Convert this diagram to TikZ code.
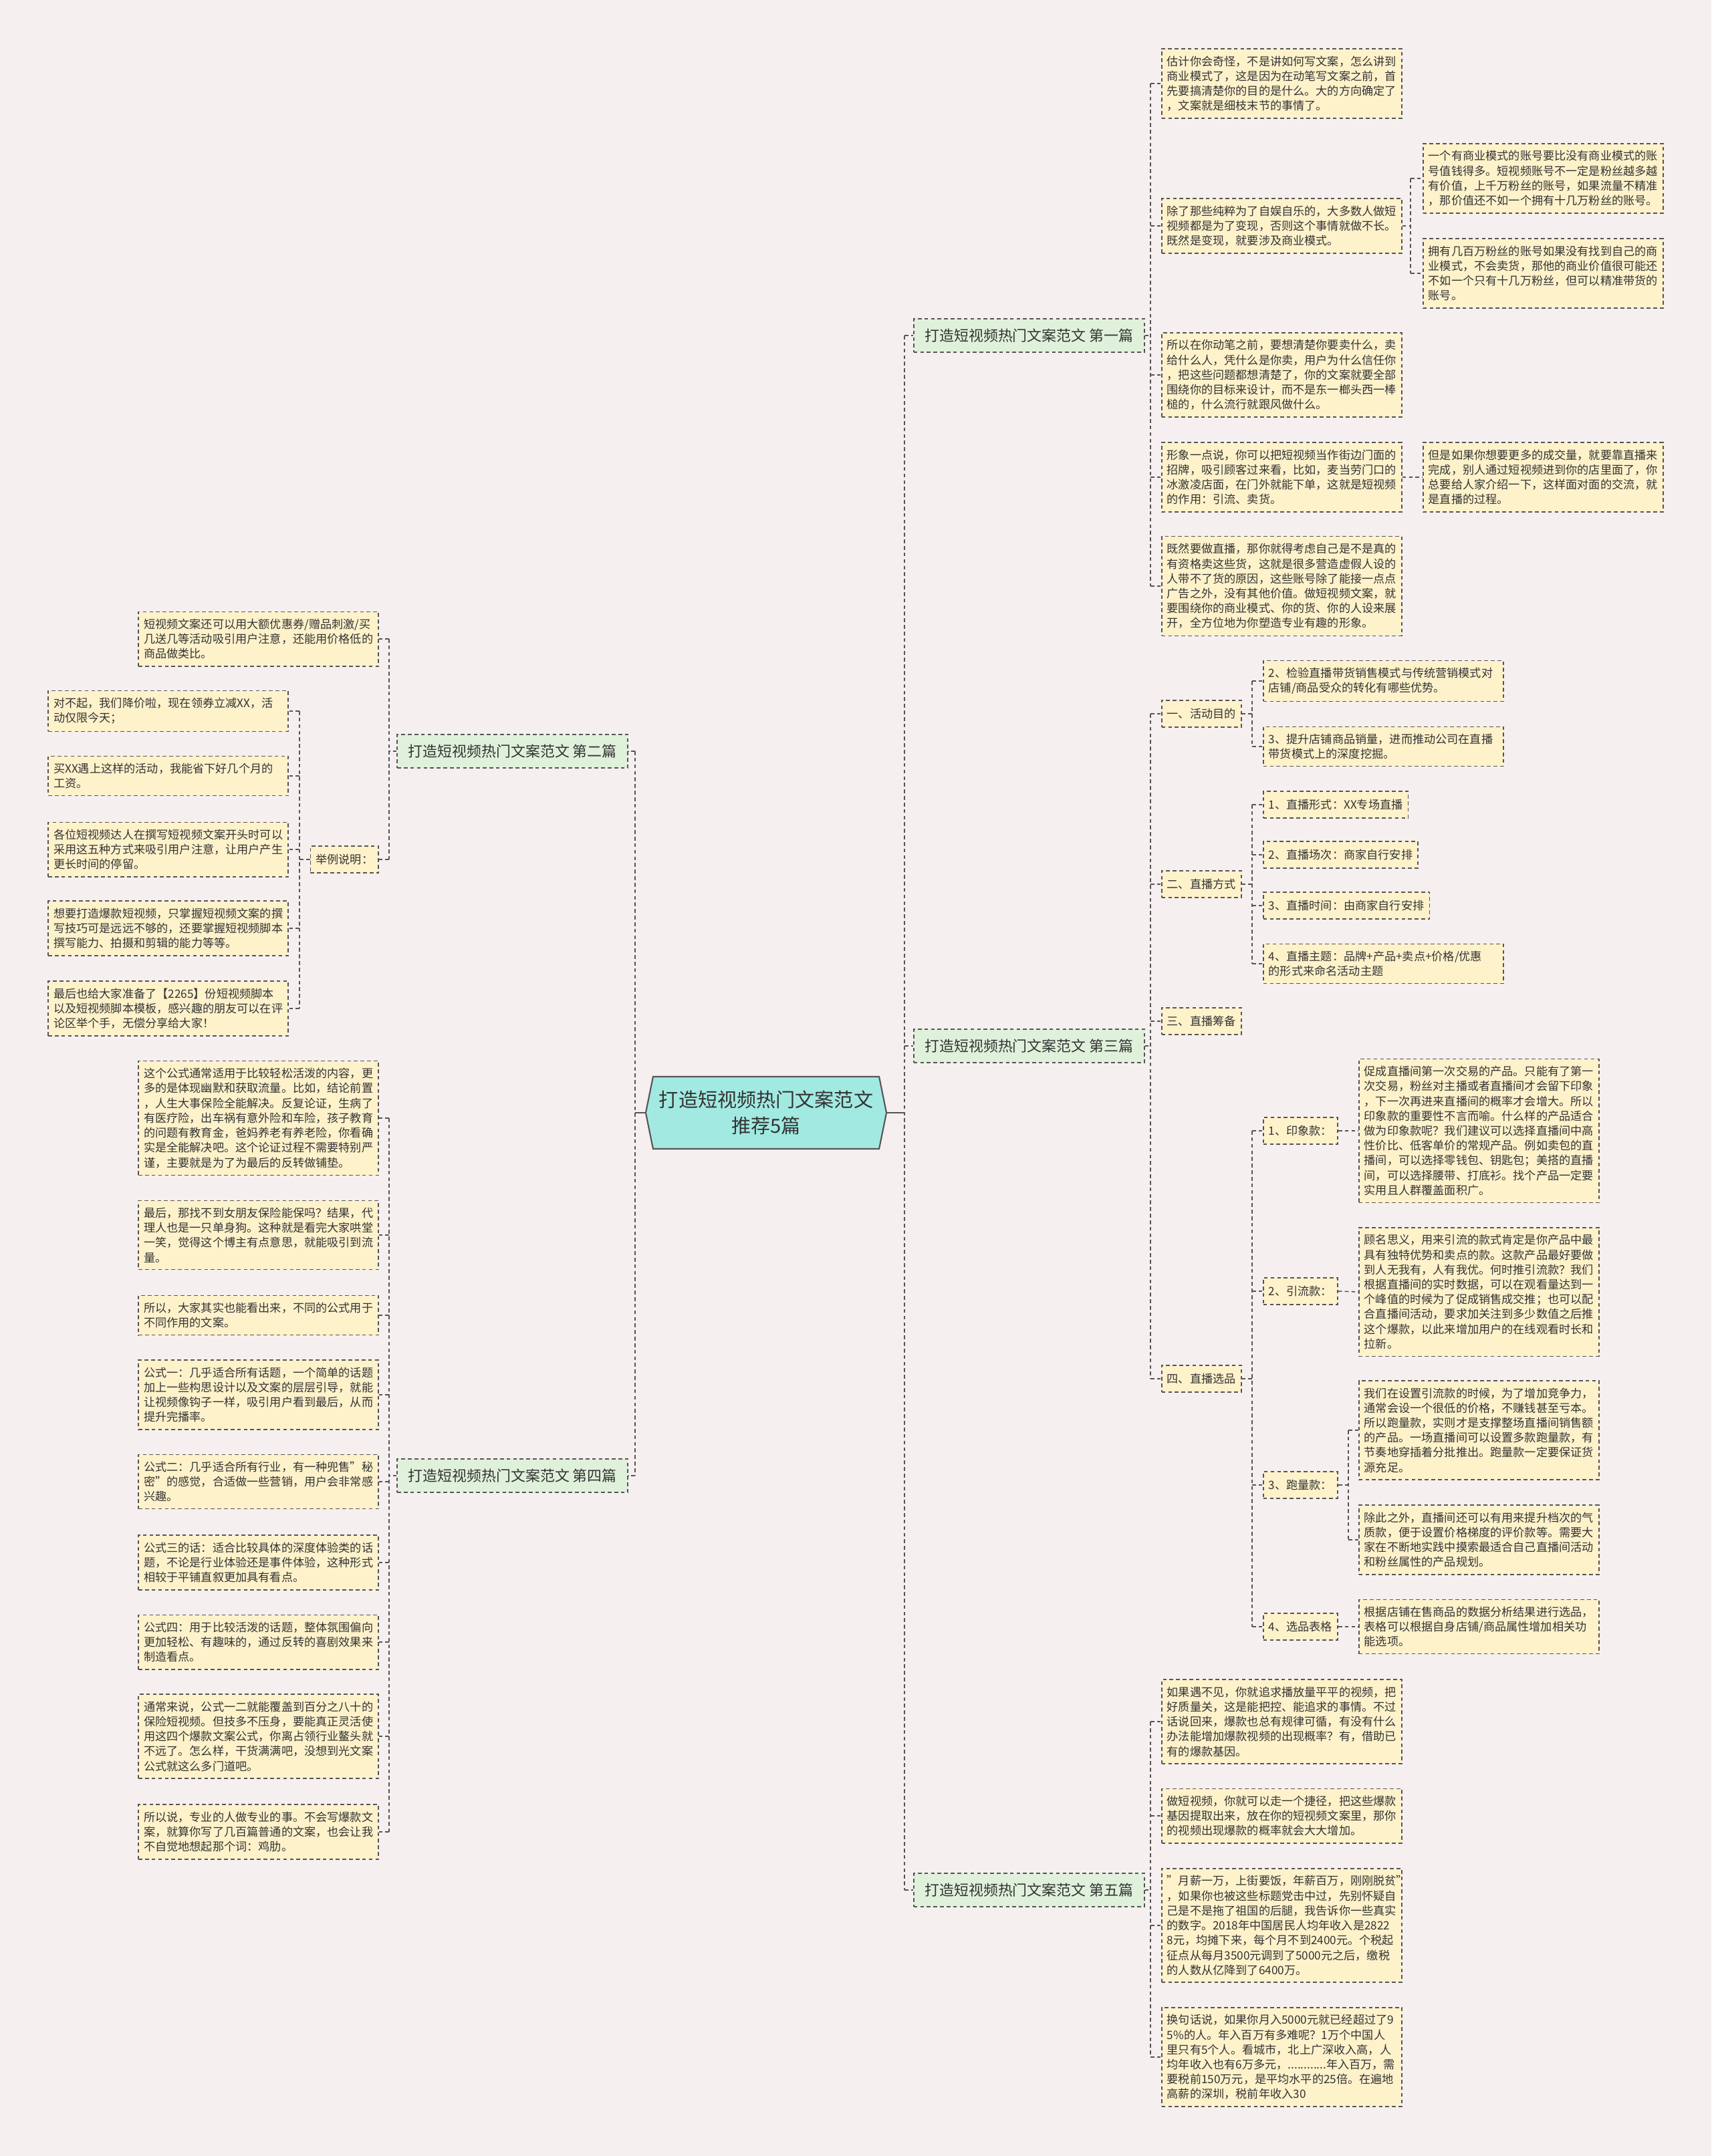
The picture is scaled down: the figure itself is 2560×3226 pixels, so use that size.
\documentclass[tikz,border=0pt]{standalone}
\usepackage{fontspec}
\setmainfont{Noto Sans CJK SC}
\usetikzlibrary{shapes.symbols}
\definecolor{bgpink}{HTML}{F5EFF0}
\definecolor{cardfill}{HTML}{FEF2CB}
\definecolor{branchfill}{HTML}{E0F1DB}
\definecolor{rootfill}{HTML}{A2EAE1}
\definecolor{linegray}{HTML}{555555}
\definecolor{textgray}{HTML}{333333}
\newcommand{\bodysize}{\fontsize{12.2pt}{15.8pt}\selectfont}

\begin{document}
\begin{tikzpicture}[x=0.025cm,y=-0.025cm,
  cardbase/.style={rectangle,draw=linegray,fill=cardfill,dash pattern=on 4pt off 3pt,
                   line width=1.1pt,text=textgray,align=left,inner xsep=0.2cm,
                   inner ysep=7.5pt,font=\bodysize},
  card/.style={cardbase,text width=8.575cm},
  tagbox/.style={cardbase,minimum height=1cm},
  branch/.style={cardbase,fill=branchfill,align=center,minimum width=8.625cm,
                 minimum height=1.25cm,font=\fontsize{15.6pt}{18pt}\selectfont},
  rootbox/.style={signal,signal to=west and east,signal pointer angle=157,draw=linegray,
                  line width=1.5pt,fill=rootfill,text=textgray,align=center,
                  minimum width=9cm,minimum height=2.7cm,
                  font=\fontsize{20.7pt}{27.7pt}\selectfont},
  link/.style={draw=linegray,line width=1.1pt,dash pattern=on 4pt off 3pt},
  rootline/.style={draw=linegray,line width=1.5pt},
]
  \fill[bgpink] (0,0) rectangle (2560,3226);
  \useasboundingbox (0,0) rectangle (2560,3226);

  % spine columns
  \coordinate (hubR) at (1353,0);
  \coordinate (hubL) at (950,0);
  \coordinate (colA) at (1721,0);
  \coordinate (colB) at (1873,0);
  \coordinate (colC) at (2017,0);
  \coordinate (colD) at (2110,0);
  \coordinate (colL) at (582,0);
  \coordinate (colLL) at (448,0);

  \node[rootbox] (root) at (1146,1665) {打造短视频热门文案范文\\推荐5篇};

  \node[branch,anchor=west] (b1) at (1366,502)  {打造短视频热门文案范文 第一篇};
  \node[branch,anchor=west] (b3) at (1366,1565) {打造短视频热门文案范文 第三篇};
  \node[branch,anchor=west] (b5) at (1366,2828) {打造短视频热门文案范文 第五篇};
  \node[branch,anchor=east] (b2) at (940,1124)  {打造短视频热门文案范文 第二篇};
  \node[branch,anchor=east] (b4) at (940,2208)  {打造短视频热门文案范文 第四篇};

  % first piece
  \node[card,anchor=west] (c1a) at (1737,125) {估计你会奇怪，不是讲如何写文案，怎么讲到\\商业模式了，这是因为在动笔写文案之前，首\\先要搞清楚你的目的是什么。大的方向确定了\\，文案就是细枝末节的事情了。};
  \node[card,anchor=west] (c1b) at (1737,338) {除了那些纯粹为了自娱自乐的，大多数人做短\\视频都是为了变现，否则这个事情就做不长。\\既然是变现，就要涉及商业模式。};
  \node[card,anchor=west] (c1b1) at (2128,267) {一个有商业模式的账号要比没有商业模式的账\\号值钱得多。短视频账号不一定是粉丝越多越\\有价值，上千万粉丝的账号，如果流量不精准\\，那价值还不如一个拥有十几万粉丝的账号。};
  \node[card,anchor=west] (c1b2) at (2128,409) {拥有几百万粉丝的账号如果没有找到自己的商\\业模式，不会卖货，那他的商业价值很可能还\\不如一个只有十几万粉丝，但可以精准带货的\\账号。};
  \node[card,anchor=west] (c1c) at (1737,561) {所以在你动笔之前，要想清楚你要卖什么，卖\\给什么人，凭什么是你卖，用户为什么信任你\\，把这些问题都想清楚了，你的文案就要全部\\围绕你的目标来设计，而不是东一榔头西一棒\\槌的，什么流行就跟风做什么。};
  \node[card,anchor=west] (c1d) at (1737,714) {形象一点说，你可以把短视频当作街边门面的\\招牌，吸引顾客过来看，比如，麦当劳门口的\\冰激凌店面，在门外就能下单，这就是短视频\\的作用：引流、卖货。};
  \node[card,anchor=west] (c1d1) at (2128,714) {但是如果你想要更多的成交量，就要靠直播来\\完成，别人通过短视频进到你的店里面了，你\\总要给人家介绍一下，这样面对面的交流，就\\是直播的过程。};
  \node[card,anchor=west] (c1e) at (1737,877) {既然要做直播，那你就得考虑自己是不是真的\\有资格卖这些货，这就是很多营造虚假人设的\\人带不了货的原因，这些账号除了能接一点点\\广告之外，没有其他价值。做短视频文案，就\\要围绕你的商业模式、你的货、你的人设来展\\开，全方位地为你塑造专业有趣的形象。};

  % third piece
  \node[tagbox,anchor=west] (d1) at (1737,1068) {一、活动目的};
  \node[card,anchor=west] (d11) at (1889,1019) {2、检验直播带货销售模式与传统营销模式对\\店铺/商品受众的转化有哪些优势。};
  \node[card,anchor=west] (d12) at (1889,1117) {3、提升店铺商品销量，进而推动公司在直播\\带货模式上的深度挖掘。};
  \node[tagbox,anchor=west] (d2) at (1737,1323) {二、直播方式};
  \node[tagbox,anchor=west] (d21) at (1889,1204) {1、直播形式：XX专场直播};
  \node[tagbox,anchor=west] (d22) at (1889,1279) {2、直播场次：商家自行安排};
  \node[tagbox,anchor=west] (d23) at (1889,1355) {3、直播时间：由商家自行安排};
  \node[card,anchor=west] (d24) at (1889,1442) {4、直播主题：品牌+产品+卖点+价格/优惠\\的形式来命名活动主题};
  \node[tagbox,anchor=west] (d3) at (1737,1528) {三、直播筹备};
  \node[tagbox,anchor=west] (d4) at (1737,2063) {四、直播选品};
  \node[tagbox,anchor=west] (d41) at (1889,1692) {1、印象款：};
  \node[card,anchor=west] (d41a) at (2032,1692) {促成直播间第一次交易的产品。只能有了第一\\次交易，粉丝对主播或者直播间才会留下印象\\，下一次再进来直播间的概率才会增大。所以\\印象款的重要性不言而喻。什么样的产品适合\\做为印象款呢？我们建议可以选择直播间中高\\性价比、低客单价的常规产品。例如卖包的直\\播间，可以选择零钱包、钥匙包；美搭的直播\\间，可以选择腰带、打底衫。找个产品一定要\\实用且人群覆盖面积广。};
  \node[tagbox,anchor=west] (d42) at (1889,1932) {2、引流款：};
  \node[card,anchor=west] (d42a) at (2032,1933) {顾名思义，用来引流的款式肯定是你产品中最\\具有独特优势和卖点的款。这款产品最好要做\\到人无我有，人有我优。何时推引流款？我们\\根据直播间的实时数据，可以在观看量达到一\\个峰值的时候为了促成销售成交推；也可以配\\合直播间活动，要求加关注到多少数值之后推\\这个爆款，以此来增加用户的在线观看时长和\\拉新。};
  \node[tagbox,anchor=west] (d43) at (1889,2222) {3、跑量款：};
  \node[card,anchor=west] (d43a) at (2032,2140) {我们在设置引流款的时候，为了增加竞争力，\\通常会设一个很低的价格，不赚钱甚至亏本。\\所以跑量款，实则才是支撑整场直播间销售额\\的产品。一场直播间可以设置多款跑量款，有\\节奏地穿插着分批推出。跑量款一定要保证货\\源充足。};
  \node[card,anchor=west] (d43b) at (2032,2304) {除此之外，直播间还可以有用来提升档次的气\\质款，便于设置价格梯度的评价款等。需要大\\家在不断地实践中摸索最适合自己直播间活动\\和粉丝属性的产品规划。};
  \node[tagbox,anchor=west] (d44) at (1889,2434) {4、选品表格};
  \node[card,anchor=west] (d44a) at (2032,2434) {根据店铺在售商品的数据分析结果进行选品，\\表格可以根据自身店铺/商品属性增加相关功\\能选项。};

  % fifth piece
  \node[card,anchor=west] (g1) at (1737,2576) {如果遇不见，你就追求播放量平平的视频，把\\好质量关，这是能把控、能追求的事情。不过\\话说回来，爆款也总有规律可循，有没有什么\\办法能增加爆款视频的出现概率？有，借助已\\有的爆款基因。};
  \node[card,anchor=west] (g2) at (1737,2717) {做短视频，你就可以走一个捷径，把这些爆款\\基因提取出来，放在你的短视频文案里，那你\\的视频出现爆款的概率就会大大增加。};
  \node[card,anchor=west] (g3) at (1737,2881) {"月薪一万，上街要饭，年薪百万，刚刚脱贫"\\，如果你也被这些标题党击中过，先别怀疑自\\己是不是拖了祖国的后腿，我告诉你一些真实\\的数字。2018年中国居民人均年收入是2822\\8元，均摊下来，每个月不到2400元。个税起\\征点从每月3500元调到了5000元之后，缴税\\的人数从亿降到了6400万。};
  \node[card,anchor=west] (g4) at (1737,3078) {换句话说，如果你月入5000元就已经超过了9\\5\%的人。年入百万有多难呢？1万个中国人\\里只有5个人。看城市，北上广深收入高，人\\均年收入也有6万多元，............年入百万，需\\要税前150万元，是平均水平的25倍。在遍地\\高薪的深圳，税前年收入30};

  % second piece
  \node[card,anchor=east] (h1) at (567,956) {短视频文案还可以用大额优惠券/赠品刺激/买\\几送几等活动吸引用户注意，还能用价格低的\\商品做类比。};
  \node[tagbox,anchor=east] (h2) at (567,1286) {举例说明：};
  \node[card,anchor=east] (h21) at (432,1064) {对不起，我们降价啦，现在领券立减XX，活\\动仅限今天；};
  \node[card,anchor=east] (h22) at (432,1161) {买XX遇上这样的活动，我能省下好几个月的\\工资。};
  \node[card,anchor=east] (h23) at (432,1271) {各位短视频达人在撰写短视频文案开头时可以\\采用这五种方式来吸引用户注意，让用户产生\\更长时间的停留。};
  \node[card,anchor=east] (h24) at (432,1389) {想要打造爆款短视频，只掌握短视频文案的撰\\写技巧可是远远不够的，还要掌握短视频脚本\\撰写能力、拍摄和剪辑的能力等等。};
  \node[card,anchor=east] (h25) at (432,1509) {最后也给大家准备了【2265】份短视频脚本\\以及短视频脚本模板，感兴趣的朋友可以在评\\论区举个手，无偿分享给大家！};

  % fourth piece
  \node[card,anchor=east] (k1) at (567,1673) {这个公式通常适用于比较轻松活泼的内容，更\\多的是体现幽默和获取流量。比如，结论前置\\，人生大事保险全能解决。反复论证，生病了\\有医疗险，出车祸有意外险和车险，孩子教育\\的问题有教育金，爸妈养老有养老险，你看确\\实是全能解决吧。这个论证过程不需要特别严\\谨，主要就是为了为最后的反转做铺垫。};
  \node[card,anchor=east] (k2) at (567,1848) {最后，那找不到女朋友保险能保吗？结果，代\\理人也是一只单身狗。这种就是看完大家哄堂\\一笑，觉得这个博主有点意思，就能吸引到流\\量。};
  \node[card,anchor=east] (k3) at (567,1968) {所以，大家其实也能看出来，不同的公式用于\\不同作用的文案。};
  \node[card,anchor=east] (k4) at (567,2087) {公式一：几乎适合所有话题，一个简单的话题\\加上一些构思设计以及文案的层层引导，就能\\让视频像钩子一样，吸引用户看到最后，从而\\提升完播率。};
  \node[card,anchor=east] (k5) at (567,2217) {公式二：几乎适合所有行业，有一种兜售"秘\\密"的感觉，合适做一些营销，用户会非常感\\兴趣。};
  \node[card,anchor=east] (k6) at (567,2338) {公式三的话：适合比较具体的深度体验类的话\\题，不论是行业体验还是事件体验，这种形式\\相较于平铺直叙更加具有看点。};
  \node[card,anchor=east] (k7) at (567,2457) {公式四：用于比较活泼的话题，整体氛围偏向\\更加轻松、有趣味的，通过反转的喜剧效果来\\制造看点。};
  \node[card,anchor=east] (k8) at (567,2598) {通常来说，公式一二就能覆盖到百分之八十的\\保险短视频。但技多不压身，要能真正灵活使\\用这四个爆款文案公式，你离占领行业鳌头就\\不远了。怎么样，干货满满吧，没想到光文案\\公式就这么多门道吧。};
  \node[card,anchor=east] (k9) at (567,2741) {所以说，专业的人做专业的事。不会写爆款文\\案，就算你写了几百篇普通的文案，也会让我\\不自觉地想起那个词：鸡肋。};

  % root to pieces
  \draw[rootline] (root.east) -- (root.east -| hubR);
  \draw[rootline] (root.west) -- (root.west -| hubL);
  \draw[link] (b1.west -| hubR) -- (b5.west -| hubR);
  \draw[link] (b2.east -| hubL) -- (b4.east -| hubL);
  \foreach \n in {b1,b3,b5} \draw[link] (\n.west -| hubR) -- (\n.west);
  \foreach \n in {b2,b4} \draw[link] (\n.east -| hubL) -- (\n.east);

  % right side
  \draw[link] (b1.east) -- (b1.east -| colA);
  \draw[link] (c1a.west -| colA) -- (c1e.west -| colA);
  \foreach \n in {c1a,c1b,c1c,c1d,c1e} \draw[link] (\n.west -| colA) -- (\n.west);
  \draw[link] (c1b.east) -- (c1b.east -| colD);
  \draw[link] (c1b1.west -| colD) -- (c1b2.west -| colD);
  \foreach \n in {c1b1,c1b2} \draw[link] (\n.west -| colD) -- (\n.west);
  \draw[link] (c1d.east) -- (c1d1.west);

  \draw[link] (b3.east) -- (b3.east -| colA);
  \draw[link] (d1.west -| colA) -- (d4.west -| colA);
  \foreach \n in {d1,d2,d3,d4} \draw[link] (\n.west -| colA) -- (\n.west);
  \draw[link] (d1.east) -- (d1.east -| colB);
  \draw[link] (d11.west -| colB) -- (d12.west -| colB);
  \draw[link] (d2.east) -- (d2.east -| colB);
  \draw[link] (d21.west -| colB) -- (d24.west -| colB);
  \draw[link] (d4.east) -- (d4.east -| colB);
  \draw[link] (d41.west -| colB) -- (d44.west -| colB);
  \foreach \n in {d11,d12,d21,d22,d23,d24,d41,d42,d43,d44} \draw[link] (\n.west -| colB) -- (\n.west);
  \draw[link] (d41.east) -- (d41a.west);
  \draw[link] (d42.east) -- (d42a.west);
  \draw[link] (d44.east) -- (d44a.west);
  \draw[link] (d43.east) -- (d43.east -| colC);
  \draw[link] (d43a.west -| colC) -- (d43b.west -| colC);
  \foreach \n in {d43a,d43b} \draw[link] (\n.west -| colC) -- (\n.west);

  \draw[link] (b5.east) -- (b5.east -| colA);
  \draw[link] (g1.west -| colA) -- (g4.west -| colA);
  \foreach \n in {g1,g2,g3,g4} \draw[link] (\n.west -| colA) -- (\n.west);

  % left side
  \draw[link] (b2.west) -- (b2.west -| colL);
  \draw[link] (h1.east -| colL) -- (h2.east -| colL);
  \foreach \n in {h1,h2} \draw[link] (\n.east -| colL) -- (\n.east);
  \draw[link] (h2.west) -- (h2.west -| colLL);
  \draw[link] (h21.east -| colLL) -- (h25.east -| colLL);
  \foreach \n in {h21,h22,h23,h24,h25} \draw[link] (\n.east -| colLL) -- (\n.east);

  \draw[link] (b4.west) -- (b4.west -| colL);
  \draw[link] (k1.east -| colL) -- (k9.east -| colL);
  \foreach \n in {k1,k2,k3,k4,k5,k6,k7,k8,k9} \draw[link] (\n.east -| colL) -- (\n.east);
\end{tikzpicture}
\end{document}
